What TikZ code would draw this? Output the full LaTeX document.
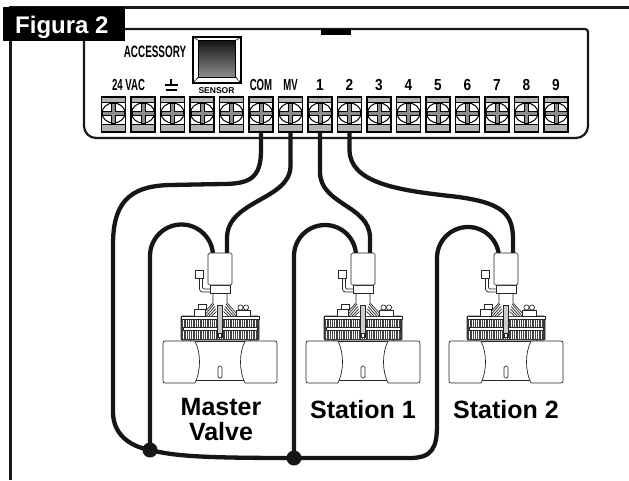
\documentclass[tikz,border=0pt]{standalone}
\usepackage{fontspec}
\setmainfont{Liberation Sans}
\newfontfamily\condfont[FakeStretch=0.6]{Liberation Sans}
\newfontfamily\numfont[FakeStretch=0.85]{Liberation Sans}
\usetikzlibrary{calc}

\pgfdeclarelayer{wires}
\pgfsetlayers{wires,main}

\definecolor{wirecol}{HTML}{161616}
\definecolor{bandgrey}{HTML}{B4B4B4}
\definecolor{crossgrey}{HTML}{8C8C8C}
\definecolor{ribgrey}{HTML}{404040}

\tikzset{
  frameline/.style={line width=2.6pt, draw=black!90},
  panelline/.style={line width=2.2pt, draw=black!90},
  wire/.style={line width=4.3pt, draw=wirecol},
  vline/.style={line width=0.7pt, draw=black!85},
  junction/.style={circle, fill=wirecol, inner sep=0pt, minimum size=15pt},
  tlabel/.style={anchor=base, inner sep=0pt, font=\condfont\fontsize{16}{18}\selectfont\bfseries},
  nlabel/.style={anchor=base, inner sep=0pt, font=\numfont\fontsize{16}{18}\selectfont\bfseries},
  vlabel/.style={anchor=base, inner sep=0pt, font=\fontsize{25}{28}\selectfont\bfseries},
  % screw terminal, origin at the centre of the block
  terminal/.pic={
    \fill[white] (-12,-17.5) rectangle (12,17.5);
    \fill[bandgrey] (-12,-17.5) rectangle (12,-12.5);
    \fill[bandgrey] (-12,9.5) rectangle (12,17.5);
    \begin{scope}
      \clip (-12,-12.5) rectangle (12,9.5);
      \draw[line width=1pt, fill=white] (0,-1.5) ellipse [x radius=11.5, y radius=10];
    \end{scope}
    \draw[line width=0.6pt] (-12,-12.5) -- (12,-12.5) (-12,9.5) -- (12,9.5);
    \draw[line width=0.6pt, fill=crossgrey]
      (-2,-11.5) -- (2,-11.5) -- (2,-3.5) -- (11,-3.5) -- (11,0.5) -- (2,0.5)
      -- (2,8.5) -- (-2,8.5) -- (-2,0.5) -- (-11,0.5) -- (-11,-3.5) -- (-2,-3.5) -- cycle;
    \draw[line width=1.8pt] (-12,-17.5) rectangle (12,17.5);
    \coordinate (-s) at (0,-1.5);
  },
  % valve with solenoid, origin at the top centre of the solenoid
  valve/.pic={
    % body: two pipe ends and the middle part
    \draw[vline, fill=white] (-25,88) -- (25,88) -- (25,127) -- (-25,127) -- cycle;
    \draw[vline, fill=white] (-54,88) -- (-25,88) .. controls (-19,100) and (-19,118) .. (-25,130)
      -- (-54,130) .. controls (-57,130) and (-57,130) .. (-57,127) -- (-57,91)
      .. controls (-57,88) and (-57,88) .. (-54,88) -- cycle;
    \draw[vline, fill=white] (54,88) -- (25,88) .. controls (19,100) and (19,118) .. (25,130)
      -- (54,130) .. controls (57,130) and (57,130) .. (57,127) -- (57,91)
      .. controls (57,88) and (57,88) .. (54,88) -- cycle;
    \draw[vline, rounded corners=1.5] (-2,113) rectangle (2,125);
    \draw[vline] (-30,86) -- (-30,88) (30,86) -- (30,88);
    % ribbed bonnet
    \draw[vline, fill=ribgrey, rounded corners=1] (-39,63) rectangle (39,87);
    \foreach \u in {-36.5,-34.2,...,36.8}
      \draw[white, line width=0.6pt] (\u,66.5) -- (\u,85.5);
    \draw[vline, fill=white] (-39,63) rectangle (39,66);
    \draw[vline, fill=white] (-37,74) rectangle (37,77);
    % stem, fans and bolts
    \fill[white] (-7,40) -- (7,40) -- (7,50) -- (19,63) -- (-19,63) -- (-7,50) -- cycle;
    \draw[vline] (-7,40) -- (-7,50) -- (-19,63);
    \draw[vline] (7,40) -- (7,50) -- (19,63);
    \foreach \k in {0,1,2,3} {
      \draw[vline] (-6+\k*0.8,51+\k*2.5) -- (-16+\k*2.5,63);
      \draw[vline] (6-\k*0.8,51+\k*2.5) -- (16-\k*2.5,63);
    }
    \draw[vline, fill=white] (-26,56) rectangle (-15,63);
    \draw[vline, fill=white] (-22,51) rectangle (-14,56);
    \draw[vline, fill=white] (16,57) rectangle (30,63);
    \draw[vline, fill=white] (20.5,54.5) circle [radius=2.6];
    \draw[vline, fill=white] (26,54.5) circle [radius=2.6];
    \draw[vline, fill=black!20] (-2.5,52) rectangle (2.5,84);
    \draw[vline, fill=white] (-1.5,80) rectangle (1.5,84);
    % solenoid head with side tab and bracket
    \draw[vline, fill=white] (-10,32) rectangle (10,40);
    \draw[vline, fill=white, rounded corners=1.5] (-12,0) rectangle (12,32);
    \draw[vline, fill=white] (-25,17) rectangle (-17,25);
    \draw[vline, rounded corners=3] (-20.5,25) -- (-20.5,39) -- (-10,39);
    \draw[vline, rounded corners=2] (-17.5,25) -- (-17.5,36) -- (-10,36);
    \coordinate (-in1) at (-7,0);
    \coordinate (-in2) at (7,0);
  }
}

\begin{document}
\begin{tikzpicture}[x=1pt, y=-1pt]
  \useasboundingbox (0,0) rectangle (629,480);

  % outer frame (top and left edges)
  \draw[frameline] (10.5,480) -- (10.5,7.5) -- (629,7.5);

  % controller terminal panel
  \draw[panelline] (84,60) -- (84,126) arc[start angle=180, end angle=90, radius=12]
    -- (576,138) arc[start angle=90, end angle=0, radius=12] -- (588,32)
    arc[start angle=0, end angle=-90, radius=3] -- (84,29) -- cycle;
  \fill[black] (321,29) rectangle (351,35);

  % title tab
  \fill[black] (3,6.5) rectangle (125,40.5);
  \node[anchor=base west, inner sep=0pt, text=white, font=\fontsize{24}{27}\selectfont\bfseries]
    (title) at (15,33) {Figura 2};

  % rain sensor button
  \draw[line width=2pt] (193,37) rectangle (241,83);
  \shade[top color=black!92, bottom color=black!45] (198.5,40.5) rectangle (235.5,77);
  \draw[line width=0.6pt] (198.5,40.5) rectangle (235.5,77);
  \draw[line width=0.6pt] (193,37) -- (198.5,40.5) (241,37) -- (235.5,40.5)
    (193,83) -- (198.5,77) (241,83) -- (235.5,77);
  \node[tlabel, font=\condfont\fontsize{16.5}{18}\selectfont\bfseries] (acc) at (155,57) {ACCESSORY};
  \node[anchor=base, inner sep=0pt, font=\fontsize{8.5}{10}\selectfont\bfseries]
    (sensor) at (216.5,93.5) {SENSOR};

  % terminal labels
  \node[tlabel] (l24) at (128.5,90) {24 VAC};
  \draw[line width=2pt] (171,78.5) -- (171,85) (164.5,85) -- (177.5,85) (165.5,89.5) -- (176.5,89.5);
  \node[tlabel] (lcom) at (261,90) {COM};
  \node[tlabel] (lmv) at (290.5,90) {MV};
  \foreach \n in {1,...,9}
    \node[nlabel] (lz\n) at ({113.5+29.5*(\n+6)},90) {\n};

  % terminal strip
  \foreach \i in {0,...,15}
    \pic (t\i) at ({113.5+29.5*\i},114.5) {terminal};

  % valves
  \pic (mv) at (220,253) {valve};
  \pic (sa) at (363,253) {valve};
  \pic (sb) at (506,253) {valve};

  % junctions of the common wire
  \node[junction] (j1) at (150,450) {};
  \node[junction] (j2) at (294,458) {};

  % field wiring, laid under the valves
  \begin{pgfonlayer}{wires}
  \draw[wire] (t5-s) -- (261,150) .. controls (261,178) and (250,184) .. (222,184)
    -- (170,185) .. controls (127,186) and (113,205) .. (113,245)
    -- (113,412) .. controls (113,433) and (128,446) .. (j1.center);
  \draw[wire] (j1.center) -- (150,256) arc[start angle=180, end angle=360, radius=31.5] -- (mv-in1);
  \draw[wire] (t6-s) -- (290.5,166) .. controls (290.5,200) and (227,200) .. (227,238) -- (mv-in2);
  \draw[wire] (t7-s) -- (320,172) .. controls (320,205) and (370,205) .. (370,238) -- (sa-in2);
  \draw[wire] (j2.center) -- (294,256) arc[start angle=180, end angle=360, radius=31] -- (sa-in1);
  \draw[wire] (t8-s) -- (349.5,150) .. controls (350,182) and (395,190) .. (450,196)
    .. controls (505,202) and (513,215) .. (513,240) -- (sb-in2);
  \draw[wire] (j1.center) .. controls (175,456) and (200,458) .. (j2.center) -- (410,458)
    .. controls (432,458) and (437,448) .. (437,425) -- (437,258)
    arc[start angle=180, end angle=360, radius=31] -- (sb-in1);
  \end{pgfonlayer}

  % valve captions
  \node[vlabel] (cmaster) at (221,415) {Master};
  \node[vlabel] (cvalve) at (221,440) {Valve};
  \node[vlabel] (cst1) at (363,418) {Station 1};
  \node[vlabel] (cst2) at (506,418) {Station 2};
\end{tikzpicture}
\end{document}
